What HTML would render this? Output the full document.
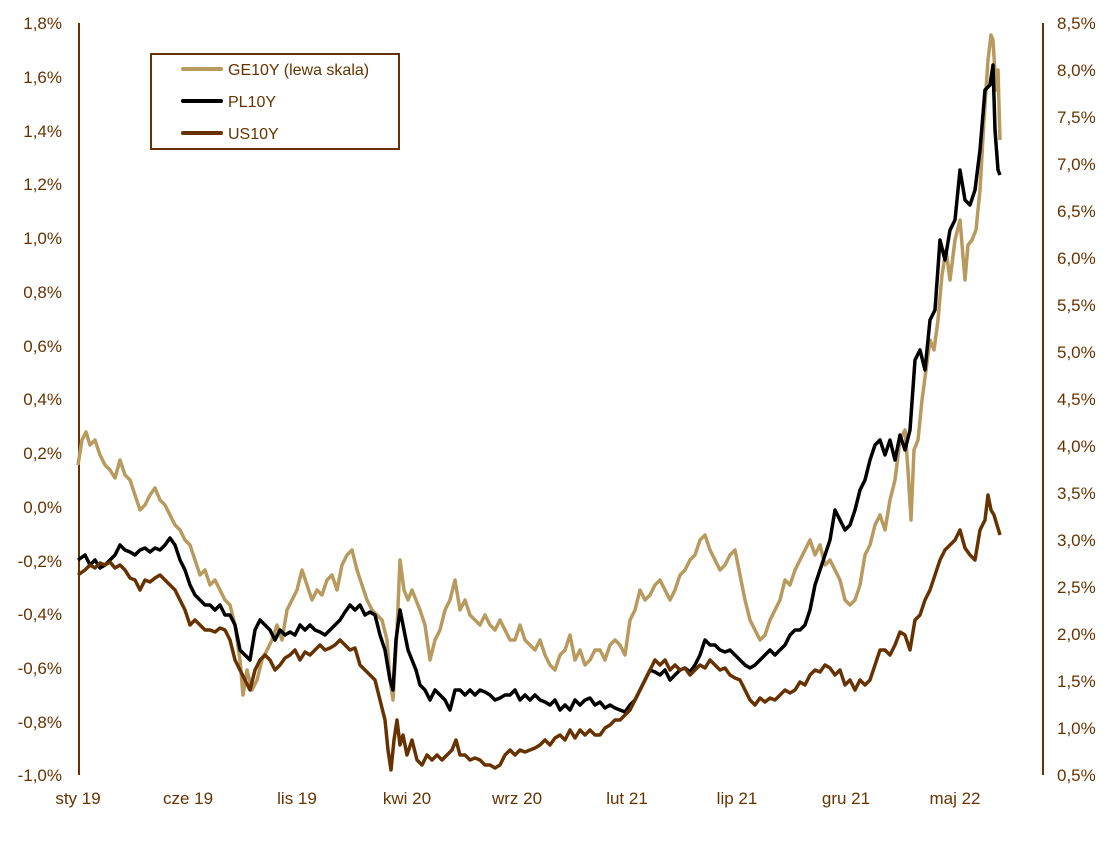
<!DOCTYPE html>
<html><head><meta charset="utf-8"><style>
body{margin:0;background:#fff}
svg{display:block;font-family:"Liberation Sans",sans-serif}
text{fill:#663300;font-size:17px}
</style></head><body>
<svg width="1116" height="864" viewBox="0 0 1116 864" xmlns="http://www.w3.org/2000/svg">
<line x1="79" y1="23" x2="79" y2="775" stroke="#663300" stroke-width="2"/>
<line x1="1043" y1="23" x2="1043" y2="775" stroke="#663300" stroke-width="2"/>
<g text-anchor="end">
<text x="62" y="29">1,8%</text><text x="62" y="83">1,6%</text><text x="62" y="137">1,4%</text><text x="62" y="190">1,2%</text><text x="62" y="244">1,0%</text><text x="62" y="298">0,8%</text><text x="62" y="352">0,6%</text><text x="62" y="405">0,4%</text><text x="62" y="459">0,2%</text><text x="62" y="513">0,0%</text><text x="62" y="567">-0,2%</text><text x="62" y="620">-0,4%</text><text x="62" y="674">-0,6%</text><text x="62" y="728">-0,8%</text><text x="62" y="781">-1,0%</text>
</g>
<g text-anchor="start">
<text x="1057" y="29">8,5%</text><text x="1057" y="76">8,0%</text><text x="1057" y="123">7,5%</text><text x="1057" y="170">7,0%</text><text x="1057" y="217">6,5%</text><text x="1057" y="264">6,0%</text><text x="1057" y="311">5,5%</text><text x="1057" y="358">5,0%</text><text x="1057" y="405">4,5%</text><text x="1057" y="452">4,0%</text><text x="1057" y="499">3,5%</text><text x="1057" y="546">3,0%</text><text x="1057" y="593">2,5%</text><text x="1057" y="640">2,0%</text><text x="1057" y="687">1,5%</text><text x="1057" y="734">1,0%</text><text x="1057" y="781">0,5%</text>
</g>
<g text-anchor="middle">
<text x="78" y="804">sty 19</text><text x="188" y="804">cze 19</text><text x="297" y="804">lis 19</text><text x="407" y="804">kwi 20</text><text x="517" y="804">wrz 20</text><text x="627" y="804">lut 21</text><text x="737" y="804">lip 21</text><text x="846" y="804">gru 21</text><text x="955" y="804">maj 22</text>
</g>
<g fill="none" stroke-width="3.5" stroke-linejoin="round">
<polyline stroke="#B89A5E" points="78,465 82,440 86,432 90,445 95,440 100,455 105,465 110,470 115,478 120,460 125,475 130,480 135,495 140,510 145,505 150,495 155,488 160,500 165,505 170,515 175,525 180,530 185,540 190,545 195,560 200,575 205,570 210,585 215,580 220,590 225,600 230,605 235,625 240,660 243,695 247,670 252,690 257,680 262,660 267,650 272,640 277,625 282,640 287,610 292,600 297,590 302,570 307,585 312,600 317,590 322,595 327,580 332,575 337,590 342,565 347,555 352,550 357,570 362,585 367,600 372,610 377,615 382,620 387,640 390,680 393,700 397,630 400,560 404,590 408,600 412,590 416,600 420,610 425,625 430,660 435,640 440,630 445,610 450,600 455,580 460,610 465,600 470,615 475,620 480,625 485,615 490,625 495,630 500,620 505,630 510,640 515,640 520,625 525,640 530,645 535,650 540,640 545,655 550,665 555,670 560,655 565,650 570,635 575,660 580,650 585,665 590,660 595,650 600,650 605,660 610,645 615,640 620,645 625,655 630,620 635,610 640,590 645,600 650,595 655,585 660,580 665,590 670,600 675,590 680,575 685,570 690,560 695,555 700,540 705,535 710,550 715,560 720,570 725,565 730,555 735,550 740,575 745,600 750,620 755,630 760,640 765,635 770,620 775,610 780,600 785,580 790,585 795,570 800,560 805,550 810,540 815,555 820,545 825,565 830,560 835,570 840,580 845,600 850,605 855,600 860,585 865,555 870,545 875,525 880,515 885,530 890,500 895,480 900,440 905,430 908,470 911,520 914,450 918,440 922,400 926,370 930,340 934,350 938,320 942,275 946,250 950,280 955,240 960,220 965,280 968,245 972,240 976,230 980,190 984,120 988,60 991,35 993,40 996,90 998,70 1000,140"/>
<polyline stroke="#000" points="78,560 85,555 90,565 95,560 100,568 105,565 110,560 115,555 120,545 125,550 130,552 135,555 140,550 145,548 150,552 155,548 160,550 165,545 170,538 175,545 180,560 185,570 190,585 195,595 200,600 205,605 210,605 215,610 220,605 225,615 230,615 235,625 240,650 245,655 250,660 255,630 260,620 265,625 270,630 275,640 280,630 285,635 290,632 295,635 300,625 305,630 310,625 315,630 320,632 325,635 330,630 335,625 340,620 345,612 350,605 355,610 360,605 365,615 370,612 375,615 380,635 385,650 390,680 393,690 396,640 400,610 404,630 408,650 412,660 416,670 420,685 425,690 430,700 435,690 440,695 445,700 450,710 455,690 460,690 465,695 470,690 475,695 480,690 485,692 490,695 495,700 500,698 505,695 510,695 515,690 520,700 525,695 530,700 535,695 540,700 545,702 550,705 555,700 560,710 565,705 570,710 575,700 580,705 585,700 590,698 595,705 600,702 605,708 610,705 615,708 620,710 625,712 630,705 635,700 640,690 645,680 650,670 655,672 660,675 665,670 670,680 675,675 680,670 685,668 690,672 695,665 700,655 705,640 710,645 715,645 720,650 725,652 730,650 735,655 740,660 745,665 750,668 755,665 760,660 765,655 770,650 775,655 780,650 785,645 790,635 795,630 800,630 805,625 810,610 815,585 820,570 825,555 830,540 835,510 840,520 845,530 850,525 855,510 860,490 865,480 870,460 875,445 880,440 885,455 890,440 895,460 900,435 905,450 910,430 915,360 920,350 925,370 930,320 935,310 940,240 945,260 950,230 955,220 960,170 965,200 970,205 975,190 980,150 985,90 990,85 993,65 995,130 998,170 1000,175"/>
<polyline stroke="#663300" points="78,575 85,570 90,565 95,568 100,563 105,565 110,562 115,568 120,565 125,570 130,578 135,580 140,590 145,580 150,582 155,578 160,575 165,580 170,585 175,590 180,600 185,610 190,625 195,620 200,625 205,630 210,630 215,632 220,628 225,630 230,640 235,660 240,670 245,680 250,690 255,670 260,660 265,655 270,660 275,670 280,665 285,658 290,655 295,650 300,660 305,652 310,655 315,650 320,645 325,650 330,648 335,645 340,640 345,645 350,650 355,648 360,665 365,670 370,675 375,680 380,700 385,720 388,750 391,770 394,740 397,720 400,745 403,735 407,755 412,740 417,760 422,765 427,755 432,760 437,755 442,760 447,755 452,750 456,740 460,755 465,755 470,760 475,758 480,760 485,765 490,765 495,768 500,765 505,755 510,750 515,755 520,750 525,752 530,750 535,748 540,745 545,740 550,745 555,738 560,735 565,740 570,730 575,738 580,730 585,735 590,730 595,735 600,735 605,728 610,725 615,720 620,720 625,715 630,710 635,700 640,690 645,680 650,670 655,660 660,665 665,660 670,670 675,665 680,670 685,668 690,675 695,670 700,665 705,668 710,660 715,665 720,670 725,668 730,675 735,678 740,680 745,690 750,700 755,705 760,698 765,702 770,698 775,700 780,695 785,690 790,693 795,690 800,682 805,685 810,675 815,670 820,672 825,665 830,668 835,675 840,670 845,685 850,680 855,690 860,680 865,685 870,680 875,665 880,650 885,650 890,655 895,645 900,632 905,635 910,650 915,620 920,615 925,600 930,590 935,575 940,560 945,550 950,545 955,540 960,530 965,548 970,555 975,560 980,530 985,520 988,495 991,510 994,515 997,525 1000,535"/>
</g>
<rect x="151" y="54" width="248" height="95" fill="#fff" stroke="#663300" stroke-width="2"/>
<g stroke-width="4" stroke-linecap="round">
<line x1="183" y1="69" x2="221" y2="69" stroke="#B89A5E"/>
<line x1="183" y1="101" x2="221" y2="101" stroke="#000"/>
<line x1="183" y1="133" x2="221" y2="133" stroke="#663300"/>
</g>
<text x="228" y="75" style="font-size:16px">GE10Y (lewa skala)</text>
<text x="228" y="107" style="font-size:16px">PL10Y</text>
<text x="228" y="139" style="font-size:16px">US10Y</text>
</svg>
</body></html>
